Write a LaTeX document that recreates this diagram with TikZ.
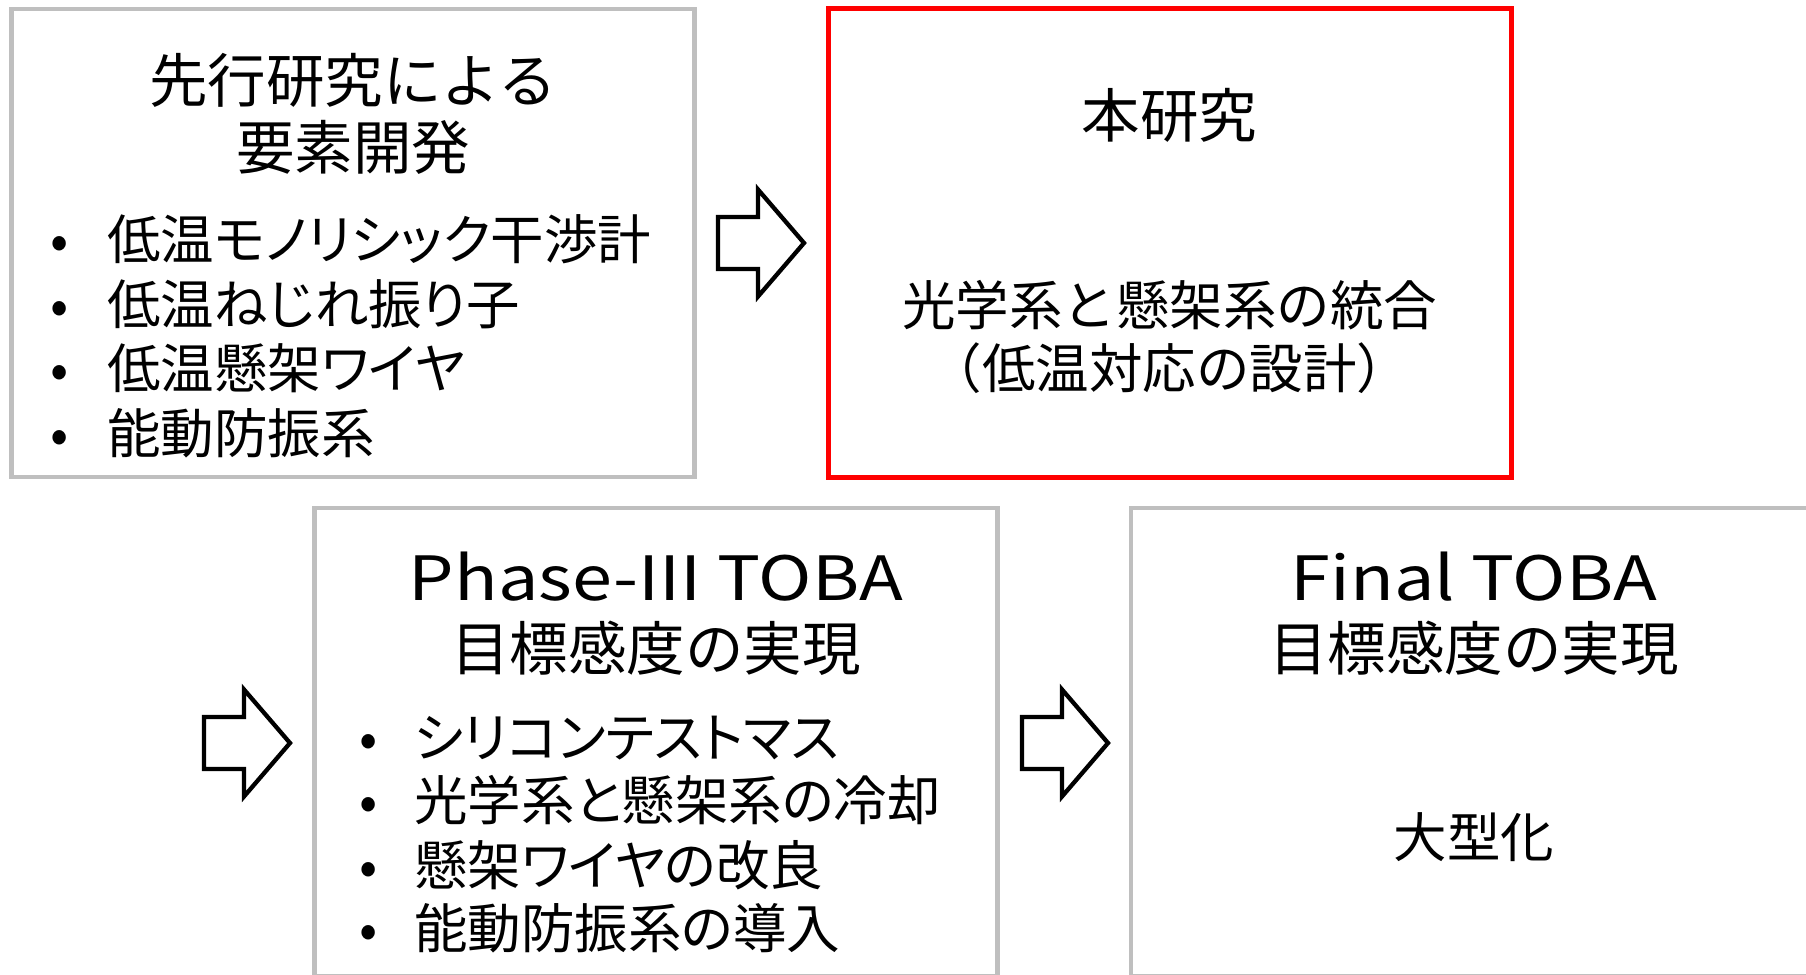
\documentclass[tikz,border=0pt]{standalone}
\usepackage{fontspec}
\setmainfont{Noto Sans CJK JP}
\newfontfamily\latw[FakeStretch=1.18]{Noto Sans CJK JP}
\newfontfamily\propjp[RawFeature=+palt]{Noto Sans CJK JP}
\definecolor{boxgray}{RGB}{191,191,191}
\definecolor{boxred}{RGB}{255,0,0}
\tikzset{
  panel/.style={draw=boxgray, line width=4.6pt, minimum width=683pt, minimum height=468pt, inner sep=0pt, outer sep=0pt},
  redpanel/.style={panel, draw=boxred, line width=5pt},
  ttl/.style={font=\fontsize{58.5}{60}\selectfont, text height=48.6pt, text depth=4.1pt, inner sep=0pt, anchor=center},
  body/.style={font=\fontsize{53.5}{56}\selectfont, text height=44.4pt, text depth=3.7pt, inner sep=0pt, anchor=center},
  item/.style={body, font=\propjp\fontsize{53.5}{56}\selectfont, anchor=west},
  dotmark/.style={body, anchor=center},
  lat/.style={font=\latw\fontsize{61}{64}\selectfont, text height=44pt, text depth=0pt, inner sep=0pt, anchor=center},
  blk/.style={draw=black, fill=white, line width=4.3pt, line join=miter},
  barrow/.pic={\draw[blk] (0,-26) -- (40,-26) -- (40,-53.5) -- (86,0) -- (40,53.5) -- (40,26) -- (0,26) -- cycle;}
}
\begin{document}
\begin{tikzpicture}[x=1pt,y=-1pt]
\useasboundingbox (0,0) rectangle (1806,974);
\clip (0,0) rectangle (1806,974);
\fill[white] (0,0) rectangle (1806,974);
% panels
\node[panel] (prior) at (353,243) {};
\node[redpanel] (this) at (1169.5,243) {};
\node[panel] (phase) at (656,742) {};
\node[panel] (final) at (1472.5,742) {};
% arrows
\pic at (718,243) {barrow};
\pic at (204,743) {barrow};
\pic at (1022,743) {barrow};
% panel 1 text
\node[ttl] (priorA) at (353,80.6) {先行研究による};
\node[ttl] (priorB) at (353,147.4) {要素開発};
\node[dotmark] (pd1) at (60,239.6) {•};
\node[item] (pi1) at (107,239.6) {低温モノリシック干渉計};
\node[dotmark] (pd2) at (60,304) {•};
\node[item] (pi2) at (107,304) {低温ねじれ振り子};
\node[dotmark] (pd3) at (60,368.6) {•};
\node[item] (pi3) at (107,368.6) {低温懸架ワイヤ};
\node[dotmark] (pd4) at (60,433) {•};
\node[item] (pi4) at (107,433) {能動防振系};
% panel 2 text
\node[ttl] (thisA) at (1169.5,115) {本研究};
\node[body] (thisB) at (1169.5,305) {光学系と懸架系の統合};
\node[body] (thisC) at (1169.5,368.6) {（低温対応の設計）};
% panel 3 text
\node[lat] (phaseA) at (656,578) {Phase-III TOBA};
\node[ttl] (phaseB) at (656,648.5) {目標感度の実現};
\node[dotmark] (qd1) at (368.6,737) {•};
\node[item] (qi1) at (414,737) {シリコンテストマス};
\node[dotmark] (qd2) at (368.6,800.5) {•};
\node[item] (qi2) at (414,800.5) {光学系と懸架系の冷却};
\node[dotmark] (qd3) at (368.6,865) {•};
\node[item] (qi3) at (414,865) {懸架ワイヤの改良};
\node[dotmark] (qd4) at (368.6,928) {•};
\node[item] (qi4) at (414,928) {能動防振系の導入};
% panel 4 text
\node[lat] (finalA) at (1474,578) {Final TOBA};
\node[ttl] (finalB) at (1474,648.5) {目標感度の実現};
\node[body] (finalC) at (1474,837) {大型化};
\end{tikzpicture}
\end{document}
